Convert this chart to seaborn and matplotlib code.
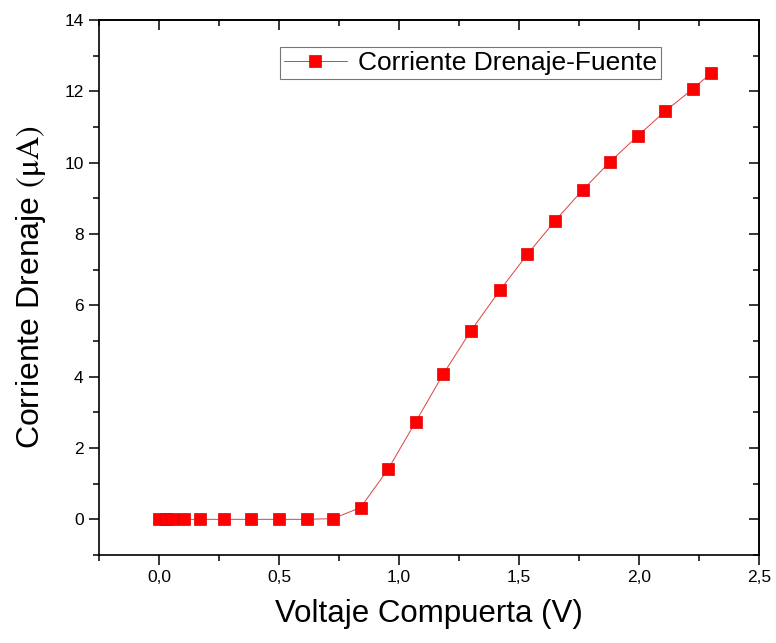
import matplotlib
matplotlib.use("Agg")
import matplotlib.pyplot as plt
import seaborn as sns
from matplotlib.ticker import MultipleLocator, FuncFormatter

# Data
voltaje = [0.0, 0.03, 0.055, 0.105, 0.17, 0.27, 0.385, 0.5, 0.615, 0.725,
           0.84, 0.955, 1.07, 1.185, 1.30, 1.42, 1.535, 1.65, 1.765, 1.88,
           1.995, 2.11, 2.225, 2.30]
corriente = [0.0, 0.0, 0.0, 0.0, 0.0, 0.0, 0.0, 0.0, 0.0, 0.02,
             0.33, 1.41, 2.74, 4.08, 5.29, 6.42, 7.43, 8.37, 9.23, 10.03,
             10.75, 11.45, 12.07, 12.51]
serie = "Corriente Drenaje-Fuente"
xlabel = "Voltaje Compuerta (V)"
ylabel = r"Corriente Drenaje $(\mathrm{\mu A})$"

sns.set_style("white")
plt.rcParams['font.family'] = ['Liberation Sans', 'DejaVu Sans']
plt.rcParams['mathtext.fontset'] = 'stix'
plt.rcParams['text.color'] = 'black'
plt.rcParams['axes.labelcolor'] = 'black'
plt.rcParams['xtick.color'] = 'black'
plt.rcParams['ytick.color'] = 'black'

fig = plt.figure(figsize=(7.76, 6.43), dpi=100)
ax = fig.add_axes([99/776, 1-555/643, 660/776, 535/643])

sns.lineplot(x=voltaje, y=corriente, ax=ax, sort=False, color='#e04040',
             linewidth=0.7, marker='s', markersize=8,
             markerfacecolor='#ff0000', markeredgecolor='#e00000',
             markeredgewidth=0.5, label=serie)

ax.set_xlim(-0.25, 2.5)
ax.set_ylim(-1, 14)

for s in ax.spines.values():
    s.set_linewidth(1.2)
    s.set_color('black')

ax.xaxis.set_major_locator(MultipleLocator(0.5))
ax.xaxis.set_minor_locator(MultipleLocator(0.25))
ax.yaxis.set_major_locator(MultipleLocator(2))
ax.yaxis.set_minor_locator(MultipleLocator(1))
ax.xaxis.set_major_formatter(FuncFormatter(lambda v, p: f"{v:.1f}".replace('.', ',')))
ax.yaxis.set_major_formatter(FuncFormatter(lambda v, p: f"{v:.0f}"))

ax.tick_params(which='major', direction='out', length=7, width=1.1,
               labelsize=12.5, colors='black', labelcolor='black', pad=4,
               bottom=True, left=True, top=False, right=False)
ax.tick_params(which='minor', direction='out', length=4, width=1.1,
               bottom=True, left=True, top=False, right=False)

secx = ax.secondary_xaxis('top')
secx.xaxis.set_major_locator(MultipleLocator(0.5))
secx.xaxis.set_minor_locator(MultipleLocator(0.25))
secx.tick_params(which='major', direction='in', length=7, width=1.1, labeltop=False, colors='black')
secx.tick_params(which='minor', direction='in', length=4, width=1.1, colors='black')
secx.spines['top'].set_linewidth(1.2)
secx.spines['top'].set_color('black')

secy = ax.secondary_yaxis('right')
secy.yaxis.set_major_locator(MultipleLocator(2))
secy.yaxis.set_minor_locator(MultipleLocator(1))
secy.tick_params(which='major', direction='in', length=7, width=1.1, labelright=False, colors='black')
secy.tick_params(which='minor', direction='in', length=4, width=1.1, colors='black')
secy.spines['right'].set_linewidth(1.2)
secy.spines['right'].set_color('black')

ax.set_xlabel(xlabel, fontsize=22.5, labelpad=10, color='black')
ax.set_ylabel(ylabel, fontsize=23, labelpad=12, color='black')

leg = ax.legend(loc='upper left', bbox_to_anchor=(0.274, 0.9495),
                borderaxespad=0, fontsize=19, frameon=True, fancybox=False,
                handlelength=2.4, handletextpad=0.4, borderpad=0.15,
                edgecolor='#555555')
leg.get_frame().set_linewidth(0.8)
for t in leg.get_texts():
    t.set_color('black')

fig.savefig("out.png", dpi=100)
